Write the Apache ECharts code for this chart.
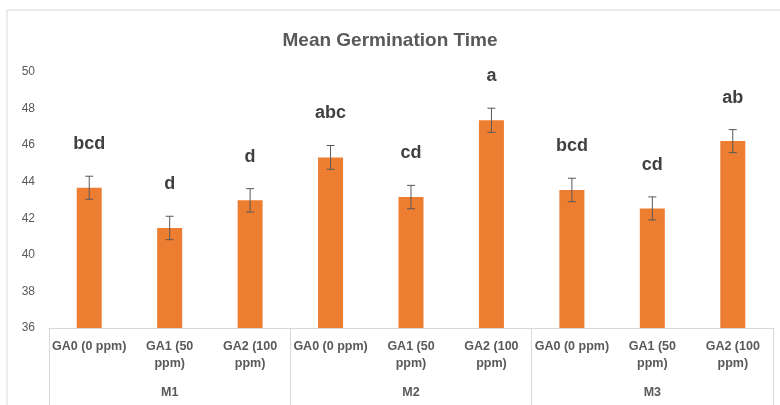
<!DOCTYPE html>
<html>
<head>
<meta charset="utf-8">
<script src="https://cdn.jsdelivr.net/npm/echarts@6/dist/echarts.min.js"></script>
<style>
  html, body { margin: 0; padding: 0; background: #fff; }
  #main { width: 780px; height: 405px; }
</style>
</head>
<body>
<div id="main"></div>
<script>
// 数据
var treatments = ['GA0 (0 ppm)', 'GA1 (50\nppm)', 'GA2 (100\nppm)',
                  'GA0 (0 ppm)', 'GA1 (50\nppm)', 'GA2 (100\nppm)',
                  'GA0 (0 ppm)', 'GA1 (50\nppm)', 'GA2 (100\nppm)'];
var groups = ['M1', 'M2', 'M3'];
var meanTime = [43.67, 41.47, 42.98, 45.33, 43.16, 47.36, 43.55, 42.54, 46.22];
var stdErr = [0.63, 0.64, 0.64, 0.65, 0.64, 0.66, 0.64, 0.63, 0.63];
var letters = ['bcd', 'd', 'd', 'abc', 'cd', 'a', 'bcd', 'cd', 'ab'];

var myChart = echarts.init(document.getElementById('main'));

var errData = meanTime.map(function (v, i) {
    return [i, v - stdErr[i], v + stdErr[i]];
});

var option = {
    animation: false,
    title: {
        text: 'Mean Germination Time',
        left: 'center',
        top: 26,
        textStyle: { fontFamily: 'Liberation Sans', fontSize: 19, fontWeight: 'bold', color: '#595959' }
    },
    graphic: [{
        type: 'rect',
        shape: { x: 7, y: 10, width: 800, height: 420 },
        style: { fill: 'none', stroke: '#d9d9d9', lineWidth: 1 },
        silent: true
    }],
    grid: { left: 49, right: 7, top: 72, bottom: 77 },
    xAxis: [{
        type: 'category',
        data: treatments,
        axisLine: { lineStyle: { color: '#d9d9d9' } },
        axisTick: { show: false },
        axisLabel: {
            interval: 0, margin: 10, lineHeight: 17,
            fontFamily: 'Liberation Sans', fontSize: 12.5, fontWeight: 'bold', color: '#595959'
        }
    }, {
        type: 'category',
        data: groups,
        position: 'bottom',
        axisLine: { show: false },
        axisTick: { show: true, length: 77, lineStyle: { color: '#d9d9d9' } },
        axisLabel: {
            margin: 56, lineHeight: 17,
            fontFamily: 'Liberation Sans', fontSize: 12.5, fontWeight: 'bold', color: '#595959'
        }
    }],
    yAxis: {
        type: 'value',
        min: 36, max: 50, interval: 2,
        splitLine: { show: false },
        axisLine: { show: false },
        axisTick: { show: false },
        axisLabel: { margin: 14, fontFamily: 'Liberation Sans', fontSize: 12, color: '#595959' }
    },
    series: [{
        type: 'bar',
        data: meanTime,
        barWidth: 25,
        itemStyle: { color: '#ED7D31' }
    }, {
        type: 'custom',
        data: errData,
        z: 10,
        renderItem: function (params, api) {
            var x = api.coord([api.value(0), api.value(1)])[0];
            var yLow = api.coord([api.value(0), api.value(1)])[1];
            var yHigh = api.coord([api.value(0), api.value(2)])[1];
            var cap = 4;
            var st = { stroke: '#595959', lineWidth: 1 };
            return {
                type: 'group',
                children: [
                    { type: 'line', shape: { x1: x, y1: yLow, x2: x, y2: yHigh }, style: st },
                    { type: 'line', shape: { x1: x - cap, y1: yLow, x2: x + cap, y2: yLow }, style: st },
                    { type: 'line', shape: { x1: x - cap, y1: yHigh, x2: x + cap, y2: yHigh }, style: st },
                    {
                        type: 'text',
                        style: {
                            x: x, y: yHigh - 32,
                            text: letters[params.dataIndex],
                            textAlign: 'center', textVerticalAlign: 'middle',
                            fontFamily: 'Liberation Sans', fontSize: 18, fontWeight: 'bold', fill: '#404040'
                        }
                    }
                ]
            };
        }
    }]
};

myChart.setOption(option);
</script>
</body>
</html>
